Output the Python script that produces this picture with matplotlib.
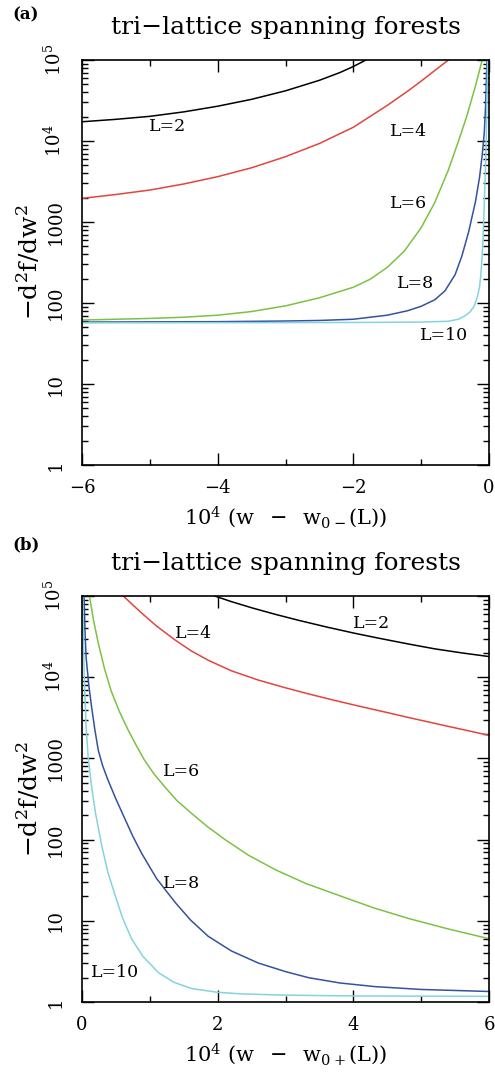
import numpy as np
import matplotlib
matplotlib.use('Agg')
import matplotlib.pyplot as plt
from matplotlib.ticker import MultipleLocator, FixedLocator, FixedFormatter, LogLocator, NullFormatter

plt.rcParams['font.family'] = ['DejaVu Serif']
plt.rcParams['mathtext.fontset'] = 'dejavuserif'

#%% data, y given as log10(-d2f/dw2)

# panel (a): x = 10^4 (w - w0-(L))
a_x2 = [-6, -5.5, -5, -4.5, -4, -3.5, -3, -2.5, -2.2, -2, -1.85, -1.8]
a_lg2 = [4.238, 4.268, 4.305, 4.36, 4.43, 4.515, 4.62, 4.75, 4.845, 4.92, 4.985, 5.01]
a_x4 = [-6, -5.5, -5, -4.5, -4, -3.5, -3, -2.5, -2, -1.5, -1.2, -1, -0.8, -0.6]
a_lg4 = [3.292, 3.34, 3.395, 3.47, 3.56, 3.67, 3.807, 3.97, 4.17, 4.44, 4.615, 4.74, 4.87, 5.0]
a_x6 = [-6, -5.5, -5, -4.5, -4, -3.5, -3, -2.5, -2, -1.75, -1.5, -1.25, -1, -0.8, -0.6, -0.45, -0.33, -0.2, -0.1]
a_lg6 = [1.79, 1.80, 1.81, 1.825, 1.85, 1.895, 1.965, 2.065, 2.195, 2.295, 2.44, 2.64, 2.93, 3.24, 3.64, 4.0, 4.3, 4.68, 5.0]
a_x8 = [-6, -4, -3, -2.5, -2, -1.5, -1.2, -1, -0.8, -0.65, -0.5, -0.4, -0.3, -0.2, -0.14, -0.1, -0.07, -0.05, -0.03]
a_lg8 = [1.765, 1.77, 1.778, 1.785, 1.80, 1.85, 1.905, 1.96, 2.04, 2.15, 2.35, 2.58, 2.88, 3.25, 3.55, 3.83, 4.1, 4.44, 5.0]
a_x10 = [-6, -2, -1, -0.6, -0.45, -0.35, -0.28, -0.22, -0.17, -0.14, -0.12, -0.1, -0.085, -0.07, -0.055, -0.04, -0.03, -0.02]
a_lg10 = [1.755, 1.76, 1.765, 1.775, 1.80, 1.845, 1.89, 1.96, 2.08, 2.2, 2.35, 2.59, 2.85, 3.21, 3.6, 4.03, 4.5, 5.0]

# panel (b): x = 10^4 (w - w0+(L))
b_x2 = [1.96, 2.2, 2.5, 2.85, 3.2, 3.6, 4.03, 4.4, 4.81, 5.2, 5.6, 6.0]
b_lg2 = [5.0, 4.932, 4.856, 4.775, 4.70, 4.62, 4.54, 4.477, 4.41, 4.35, 4.30, 4.255]
b_x4 = [0.61, 0.75, 0.88, 1.1, 1.37, 1.6, 1.86, 2.2, 2.6, 3.0, 3.34, 3.7, 4.08, 4.5, 4.81, 5.4, 6.0]
b_lg4 = [5.0, 4.89, 4.79, 4.63, 4.46, 4.33, 4.21, 4.08, 3.965, 3.87, 3.795, 3.72, 3.645, 3.565, 3.505, 3.395, 3.285]
b_x6 = [0.11, 0.17, 0.24, 0.33, 0.43, 0.55, 0.68, 0.8, 0.92, 1.07, 1.22, 1.4, 1.62, 1.85, 2.11, 2.45,
        2.85, 3.3, 3.83, 4.3, 4.81, 5.4, 6.0]
b_lg6 = [5.0, 4.70, 4.42, 4.11, 3.83, 3.58, 3.35, 3.16, 2.98, 2.8, 2.65, 2.48, 2.32, 2.16, 2.0, 1.81,
         1.63, 1.46, 1.30, 1.16, 1.03, 0.9, 0.78]
b_x8 = [0.03, 0.045, 0.06, 0.1, 0.14, 0.19, 0.24, 0.3, 0.38, 0.5, 0.63, 0.75, 0.88, 1.1, 1.37, 1.6,
        1.86, 2.2, 2.6, 3.0, 3.34, 3.8, 4.32, 5.0, 6.0]
b_lg8 = [5.0, 4.55, 4.25, 3.9, 3.64, 3.35, 3.10, 2.92, 2.74, 2.50, 2.26, 2.04, 1.83, 1.52, 1.23, 1.01,
         0.81, 0.63, 0.48, 0.375, 0.30, 0.235, 0.19, 0.155, 0.13]
b_x10 = [0.01, 0.02, 0.03, 0.04, 0.06, 0.09, 0.14, 0.2, 0.29, 0.38, 0.49, 0.6, 0.73, 0.9, 1.13, 1.35,
         1.62, 2.0, 2.36, 3.0, 4.0, 6.0]
b_lg10 = [5.0, 4.5, 4.1, 3.84, 3.4, 3.02, 2.66, 2.32, 1.93, 1.60, 1.31, 1.03, 0.78, 0.56, 0.36, 0.245,
          0.165, 0.12, 0.10, 0.085, 0.075, 0.07]

colors = ['black', '#e2453d', '#7cc242', '#3552a0', '#84d3df']
names = ['L=2', 'L=4', 'L=6', 'L=8', 'L=10']

# label positions (x, log10 y)
a_lab = [(-4.74, 4.18), (-1.18, 4.12), (-1.18, 3.23), (-1.09, 2.243), (-0.66, 1.605)]
b_lab = [(4.27, 4.66), (1.64, 4.54), (1.46, 2.836), (1.46, 1.46), (0.49, 0.36)]

ytick_vals = [1, 10, 100, 1000, 1e4, 1e5]
ytick_txt = ['1', '10', '100', '1000', r'$10^4$', r'$10^5$']

#%% figure

fig = plt.figure(figsize=(4.95, 10.74), dpi=100)
ax1 = fig.add_axes([0.1657, 0.5670, 0.8222, 0.3771])
ax2 = fig.add_axes([0.1657, 0.0670, 0.8222, 0.3780])

def style(ax, xlim, xlabel):
    ax.set_yscale('log')
    ax.set_xlim(*xlim)
    ax.set_ylim(1, 1e5)
    ax.xaxis.set_major_locator(MultipleLocator(2))
    ax.xaxis.set_minor_locator(MultipleLocator(1))
    ax.yaxis.set_major_locator(FixedLocator(ytick_vals))
    ax.yaxis.set_major_formatter(FixedFormatter(ytick_txt))
    ax.yaxis.set_minor_locator(LogLocator(base=10, subs=np.arange(2, 10), numticks=20))
    ax.yaxis.set_minor_formatter(NullFormatter())
    ax.tick_params(which='both', direction='in', top=True, right=True, width=1.0)
    ax.tick_params(which='major', length=8.5, labelsize=13)
    ax.tick_params(which='minor', length=4.5)
    ax.tick_params(axis='x', pad=10)
    ax.tick_params(axis='y', labelrotation=90, pad=12.5)
    for lab in ax.get_yticklabels():
        lab.set_va('center')
    for s in ax.spines.values():
        s.set_linewidth(1.2)
    ax.set_title('tri\u2212lattice spanning forests', fontsize=18, pad=19)
    ax.set_ylabel(r'$-\mathrm{d}^2\mathrm{f}/\mathrm{dw}^2$', fontsize=18, labelpad=0)
    ax.set_xlabel(xlabel, fontsize=15, labelpad=5)
    ax.xaxis.set_major_formatter(plt.FuncFormatter(lambda v, p: '%d' % v if v >= 0 else '\u2212%d' % -v))

style(ax1, (-6, 0), r'$10^4$ (w $\;-\;$ w$_{0-}$(L))')
style(ax2, (0, 6), r'$10^4$ (w $\;-\;$ w$_{0+}$(L))')

a_data = [(a_x2, a_lg2), (a_x4, a_lg4), (a_x6, a_lg6), (a_x8, a_lg8), (a_x10, a_lg10)]
b_data = [(b_x2, b_lg2), (b_x4, b_lg4), (b_x6, b_lg6), (b_x8, b_lg8), (b_x10, b_lg10)]

for (x, lg), c in zip(a_data, colors):
    ax1.plot(x, 10 ** np.array(lg), color=c, lw=1.1)
for (x, lg), c in zip(b_data, colors):
    ax2.plot(x, 10 ** np.array(lg), color=c, lw=1.1)

for (lx, ly), t in zip(a_lab, names):
    ax1.text(lx, 10 ** ly, t, fontsize=12.5, ha='center', va='center')
for (lx, ly), t in zip(b_lab, names):
    ax2.text(lx, 10 ** ly, t, fontsize=12.5, ha='center', va='center')

fig.text(0.025, 0.986, '(a)', fontsize=12, fontweight='bold', va='center', ha='left')
fig.text(0.025, 0.493, '(b)', fontsize=12, fontweight='bold', va='center', ha='left')

fig.savefig('out.png', dpi=100)
